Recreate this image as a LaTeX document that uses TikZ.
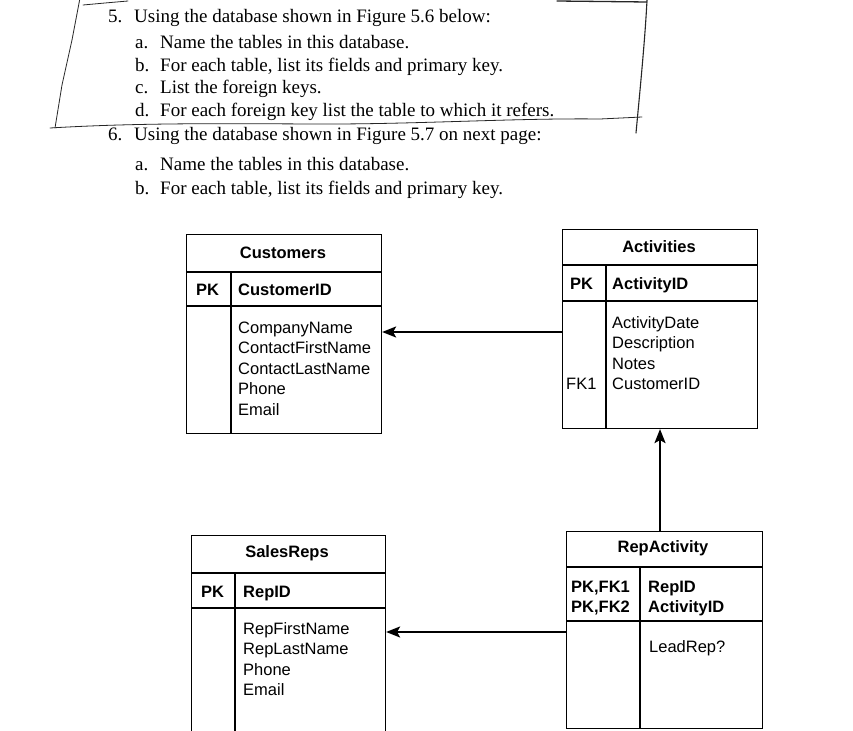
\documentclass[tikz,border=0pt]{standalone}
\usepackage{fontspec}
\setmainfont{Liberation Serif}
\newfontfamily\tabfont{Liberation Sans}
\usetikzlibrary{arrows.meta}
\begin{document}
\begin{tikzpicture}[x=1pt,y=-1pt,
  qtext/.style={anchor=base west, inner sep=0, font=\fontsize{19}{22}\selectfont},
  tbox/.style={draw, line width=1.1pt, anchor=north west, inner sep=0},
  ttitle/.style={font=\tabfont\bfseries\fontsize{16.5}{20}\selectfont, inner sep=0},
  tkey/.style={font=\tabfont\bfseries\fontsize{16.5}{20}\selectfont, inner sep=0, anchor=base west},
  tfield/.style={font=\tabfont\fontsize{16.5}{20}\selectfont, inner sep=0, anchor=base west},
  tline/.style={line width=1.1pt},
  hand/.style={line width=0.8pt, black!85, line cap=round, line join=round},
  fk/.style={line width=2pt, -{Stealth[length=14pt,width=11pt,inset=3pt]}}
]
\useasboundingbox (0,0) rectangle (853,730);
\clip (0,0) rectangle (853,730);
\fill[white] (0,0) rectangle (853,730);

% ---------- question text ----------
\node[qtext] (n5) at (108,23) {5.};
\node[qtext] (t5) at (134,23) {Using the database shown in Figure 5.6 below:};
\node[qtext] (n5a) at (135,49) {a.};
\node[qtext] (t5a) at (160,49) {Name the tables in this database.};
\node[qtext] (n5b) at (135,72) {b.};
\node[qtext] (t5b) at (160,72) {For each table, list its fields and primary key.};
\node[qtext] (n5c) at (135,94) {c.};
\node[qtext] (t5c) at (160,94) {List the foreign keys.};
\node[qtext] (n5d) at (135,117) {d.};
\node[qtext] (t5d) at (160,117) {For each foreign key list the table to which it refers.};
\node[qtext] (n6) at (108,141) {6.};
\node[qtext] (t6) at (134,141) {Using the database shown in Figure 5.7 on next page:};
\node[qtext] (n6a) at (135,171) {a.};
\node[qtext] (t6a) at (160,171) {Name the tables in this database.};
\node[qtext] (n6b) at (135,194) {b.};
\node[qtext] (t6b) at (160,194) {For each table, list its fields and primary key.};

% ---------- hand-drawn box ----------
\draw[hand] (83,5) -- (105,3) -- (128,1);
\draw[hand] (80,-2) -- (72,40) -- (62,85) -- (55,128);
\draw[hand] (50,128) .. controls (150,122) and (250,124) .. (330,124)
  .. controls (420,124) and (520,118) .. (600,119) -- (642,117);
\draw[hand, line width=1.3pt] (557,1) -- (647,2);
\draw[hand, line width=1.1pt] (647,0) .. controls (645,40) and (640,90) .. (636,133);

% ---------- Customers ----------
\node[tbox, minimum width=195, minimum height=199] (cust) at (186,234) {};
\draw[tline] (186,272) -- (381,272);
\draw[tline] (186,306) -- (381,306);
\draw[tline] (231,272) -- (231,433);
\node[ttitle] (custT) at (283,253) {Customers};
\node[tkey] (custK) at (196,295) {PK};
\node[tkey] (custKf) at (238,295) {CustomerID};
\node[tfield] (c1) at (238,333) {CompanyName};
\node[tfield] (c2) at (238,353.5) {ContactFirstName};
\node[tfield] (c3) at (238,374) {ContactLastName};
\node[tfield] (c4) at (238,394.5) {Phone};
\node[tfield] (c5) at (238,415) {Email};

% ---------- Activities ----------
\node[tbox, minimum width=195, minimum height=199] (act) at (562,229) {};
\draw[tline] (562,265) -- (757,265);
\draw[tline] (562,301) -- (757,301);
\draw[tline] (606,265) -- (606,428);
\node[ttitle] (actT) at (659,247) {Activities};
\node[tkey] (actK) at (570,289) {PK};
\node[tkey] (actKf) at (612,289) {ActivityID};
\node[tfield] (a1) at (612,328) {ActivityDate};
\node[tfield] (a2) at (612,348.5) {Description};
\node[tfield] (a3) at (612,369) {Notes};
\node[tfield] (a4k) at (566,389.5) {FK1};
\node[tfield] (a4) at (612,389.5) {CustomerID};

% ---------- SalesReps ----------
\node[tbox, minimum width=194, minimum height=210] (sales) at (191,535) {};
\draw[tline] (191,573) -- (385,573);
\draw[tline] (191,608) -- (385,608);
\draw[tline] (235,573) -- (235,745);
\node[ttitle] (salesT) at (287,553) {SalesReps};
\node[tkey] (salesK) at (201,597) {PK};
\node[tkey] (salesKf) at (243,597) {RepID};
\node[tfield] (s1) at (243,634) {RepFirstName};
\node[tfield] (s2) at (243,654.5) {RepLastName};
\node[tfield] (s3) at (243,675) {Phone};
\node[tfield] (s4) at (243,695.5) {Email};

% ---------- RepActivity ----------
\node[tbox, minimum width=196, minimum height=197] (repact) at (566,531) {};
\draw[tline] (566,567) -- (762,567);
\draw[tline] (566,621) -- (762,621);
\draw[tline] (640,567) -- (640,728);
\node[ttitle] (repT) at (663,548) {RepActivity};
\node[tkey] (repK1) at (571,592) {PK,FK1};
\node[tkey] (repK2) at (571,612) {PK,FK2};
\node[tkey] (repF1) at (648,592) {RepID};
\node[tkey] (repF2) at (648,612) {ActivityID};
\node[tfield] (r1) at (649,652) {LeadRep?};

% ---------- relationships ----------
\draw[fk] (act.west |- 0,332) -- (cust.east |- 0,332);
\draw[fk] (repact.west |- 0,632) -- (sales.east |- 0,632);
\draw[fk] (repact.north -| 660,0) -- (act.south -| 660,0);
\end{tikzpicture}
\end{document}
